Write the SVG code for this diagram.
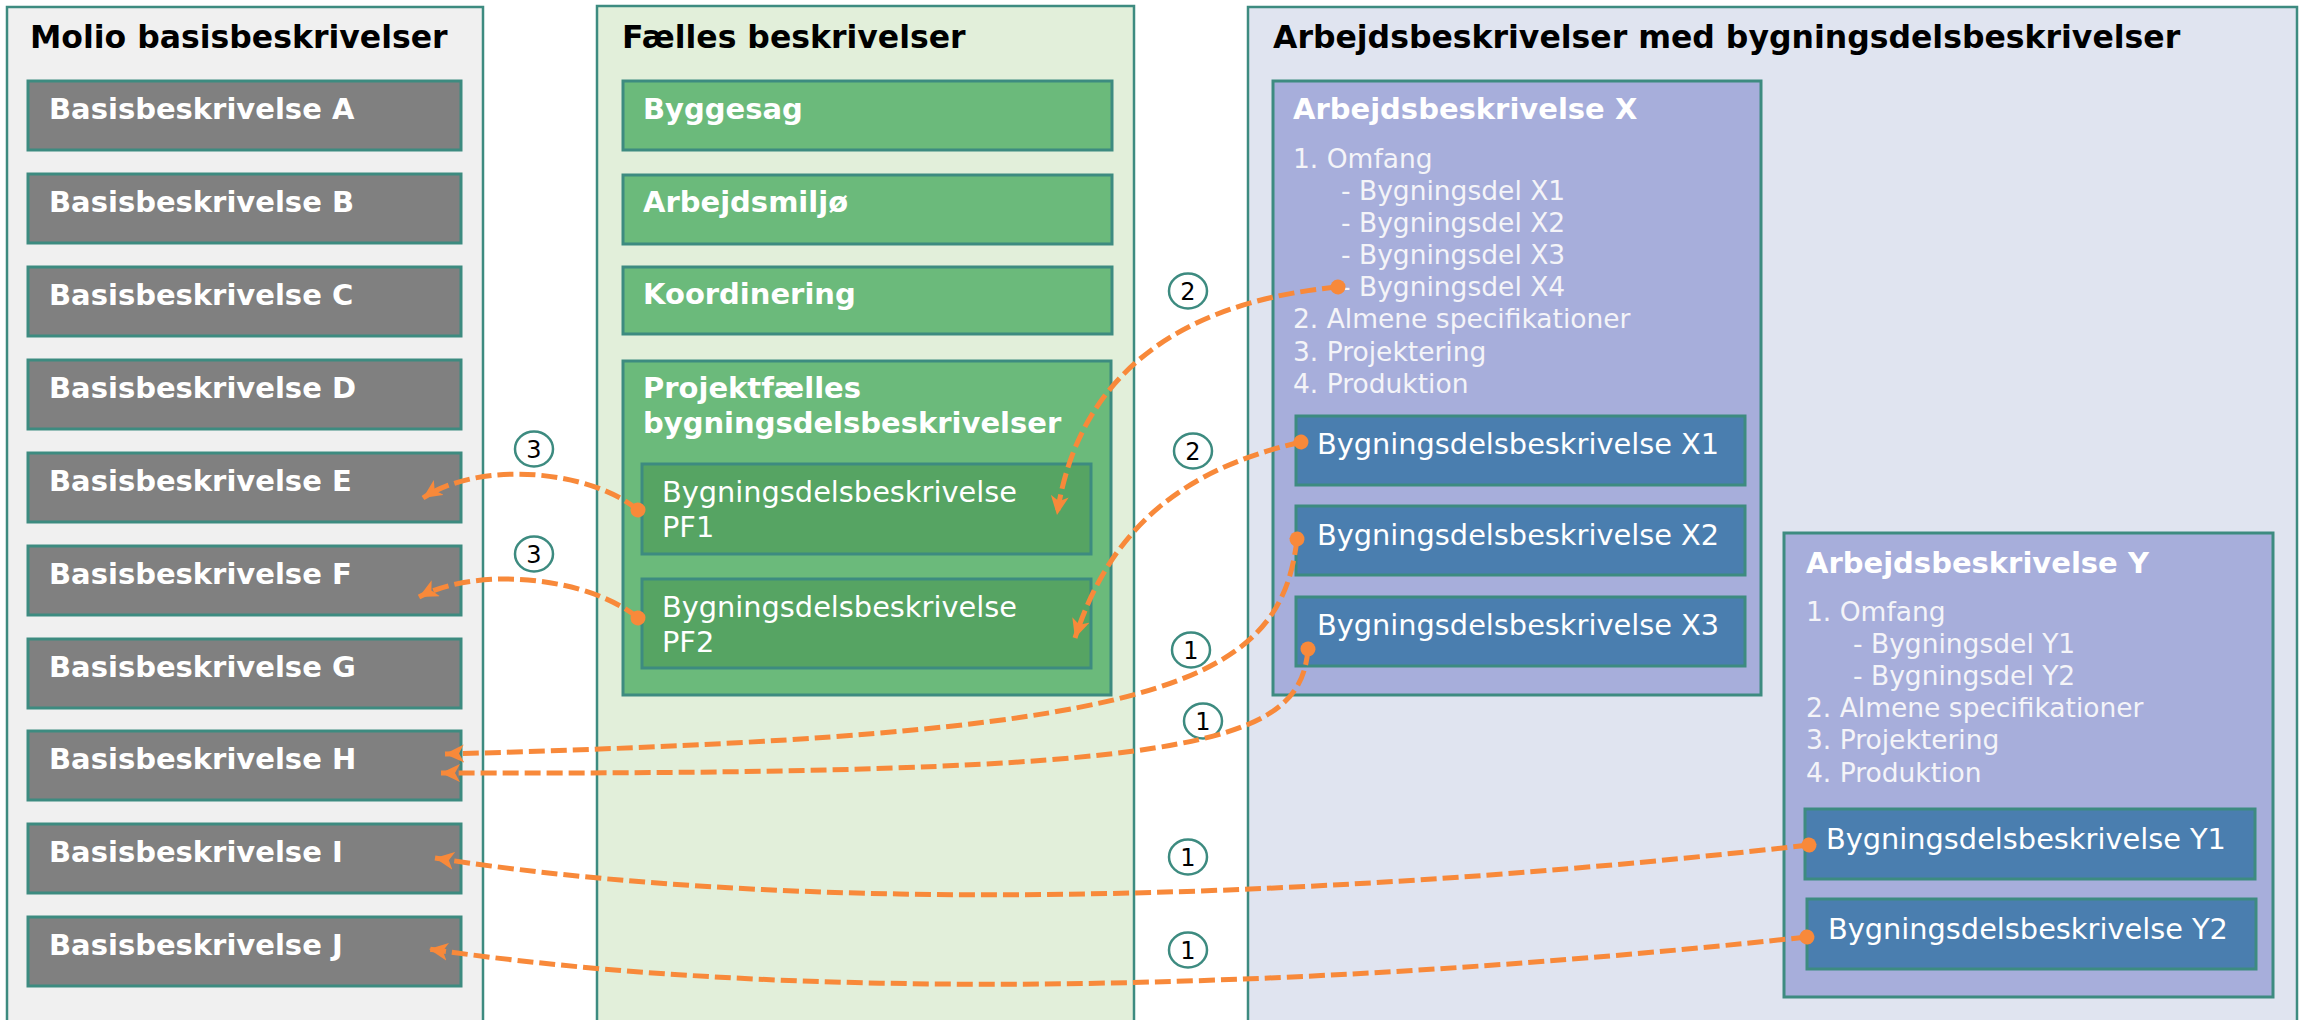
<svg xmlns="http://www.w3.org/2000/svg" width="2305" height="1020" viewBox="0 0 2305 1020">
<defs>
<style>
.panel{stroke:#3D8B80;stroke-width:2.5}
.box{stroke:#3D8B80;stroke-width:3}
.gray{fill:#808080}
.green{fill:#6BBA7B}
.dgreen{fill:#56A463}
.purple{fill:#A7AEDB}
.blue{fill:#4A7EAF}
.ptitle{font-family:"DejaVu Sans",Verdana,sans-serif;font-weight:bold;font-size:31.5px;fill:#000}
.btxt{font-family:"DejaVu Sans",Verdana,sans-serif;font-weight:bold;font-size:29px;fill:#fff}
.rtxt{font-family:"DejaVu Sans",Verdana,sans-serif;font-size:28.8px;fill:#fff}
.ltxt{font-family:"DejaVu Sans",Verdana,sans-serif;font-size:26.5px;fill:#F4F4F8}
.num ellipse{fill:#fff;stroke:#3D8B80;stroke-width:2.5}
.num text{font-family:"DejaVu Sans",Verdana,sans-serif;font-size:24px;fill:#000;text-anchor:middle}
.conn{fill:none;stroke:#F8893A;stroke-width:5;stroke-dasharray:16 6;marker-start:url(#dot);marker-end:url(#arrow)}
</style>
<marker id="arrow" markerUnits="userSpaceOnUse" markerWidth="20" markerHeight="18" viewBox="0 0 20 18" refX="19" refY="9" orient="auto">
<path d="M0,0 L19,9 L0,18 L5,9 Z" fill="#F8893A"/>
</marker>
<marker id="dot" markerUnits="userSpaceOnUse" markerWidth="18" markerHeight="18" viewBox="0 0 18 18" refX="9" refY="9" orient="auto">
<circle cx="9" cy="9" r="7.5" fill="#F8893A"/>
</marker>
</defs>
<rect width="2305" height="1020" fill="#fff"/>

<g id="panel-molio">
<rect class="panel" x="7" y="7" width="476" height="1040" fill="#F0F0F0"/>
<text class="ptitle" x="30" y="48">Molio basisbeskrivelser</text>
</g>
<g id="basis-a"><rect class="box gray" x="28" y="81" width="433" height="69"/><text class="btxt" x="49" y="119">Basisbeskrivelse A</text></g>
<g id="basis-b"><rect class="box gray" x="28" y="174" width="433" height="69"/><text class="btxt" x="49" y="212">Basisbeskrivelse B</text></g>
<g id="basis-c"><rect class="box gray" x="28" y="267" width="433" height="69"/><text class="btxt" x="49" y="305">Basisbeskrivelse C</text></g>
<g id="basis-d"><rect class="box gray" x="28" y="360" width="433" height="69"/><text class="btxt" x="49" y="398">Basisbeskrivelse D</text></g>
<g id="basis-e"><rect class="box gray" x="28" y="453" width="433" height="69"/><text class="btxt" x="49" y="491">Basisbeskrivelse E</text></g>
<g id="basis-f"><rect class="box gray" x="28" y="546" width="433" height="69"/><text class="btxt" x="49" y="584">Basisbeskrivelse F</text></g>
<g id="basis-g"><rect class="box gray" x="28" y="639" width="433" height="69"/><text class="btxt" x="49" y="677">Basisbeskrivelse G</text></g>
<g id="basis-h"><rect class="box gray" x="28" y="731" width="433" height="69"/><text class="btxt" x="49" y="769">Basisbeskrivelse H</text></g>
<g id="basis-i"><rect class="box gray" x="28" y="824" width="433" height="69"/><text class="btxt" x="49" y="862">Basisbeskrivelse I</text></g>
<g id="basis-j"><rect class="box gray" x="28" y="917" width="433" height="69"/><text class="btxt" x="49" y="955">Basisbeskrivelse J</text></g>

<g id="panel-faelles">
<rect class="panel" x="597" y="6" width="537" height="1040" fill="#E2EFDA"/>
<text class="ptitle" x="622" y="48">Fælles beskrivelser</text>
</g>
<g id="byggesag"><rect class="box green" x="623" y="81" width="489" height="69"/><text class="btxt" x="643" y="119">Byggesag</text></g>
<g id="arbejdsmiljo"><rect class="box green" x="623" y="175" width="489" height="69"/><text class="btxt" x="643" y="212">Arbejdsmiljø</text></g>
<g id="koordinering"><rect class="box green" x="623" y="267" width="489" height="67"/><text class="btxt" x="643" y="304">Koordinering</text></g>
<g id="projektfaelles">
<rect class="box green" x="623" y="361" width="488" height="334"/>
<text class="btxt" x="643" y="398">Projektfælles</text>
<text class="btxt" x="643" y="433">bygningsdelsbeskrivelser</text>
</g>
<g id="pf1"><rect class="box dgreen" x="642" y="464" width="449" height="90"/><text class="rtxt" x="662" y="502">Bygningsdelsbeskrivelse</text><text class="rtxt" x="662" y="537">PF1</text></g>
<g id="pf2"><rect class="box dgreen" x="642" y="579" width="449" height="89"/><text class="rtxt" x="662" y="617">Bygningsdelsbeskrivelse</text><text class="rtxt" x="662" y="652">PF2</text></g>

<g id="panel-arbejds">
<rect class="panel" x="1248" y="7" width="1049" height="1040" fill="#E0E4F0"/>
<text class="ptitle" x="1273" y="48">Arbejdsbeskrivelser med bygningsdelsbeskrivelser</text>
</g>
<g id="arbejds-x">
<rect class="box purple" x="1273" y="81" width="488" height="614"/>
<text class="btxt" x="1293" y="119">Arbejdsbeskrivelse X</text>
<text class="ltxt" x="1293" y="168">1. Omfang</text>
<text class="ltxt" x="1341" y="200">- Bygningsdel X1</text>
<text class="ltxt" x="1341" y="232">- Bygningsdel X2</text>
<text class="ltxt" x="1341" y="264">- Bygningsdel X3</text>
<text class="ltxt" x="1341" y="296">- Bygningsdel X4</text>
<text class="ltxt" x="1293" y="328">2. Almene specifikationer</text>
<text class="ltxt" x="1293" y="361">3. Projektering</text>
<text class="ltxt" x="1293" y="393">4. Produktion</text>
</g>
<g id="bdb-x1"><rect class="box blue" x="1296" y="416" width="449" height="69"/><text class="rtxt" x="1317" y="454">Bygningsdelsbeskrivelse X1</text></g>
<g id="bdb-x2"><rect class="box blue" x="1296" y="506" width="449" height="69"/><text class="rtxt" x="1317" y="545">Bygningsdelsbeskrivelse X2</text></g>
<g id="bdb-x3"><rect class="box blue" x="1296" y="597" width="449" height="69"/><text class="rtxt" x="1317" y="635">Bygningsdelsbeskrivelse X3</text></g>

<g id="arbejds-y">
<rect class="box purple" x="1784" y="533" width="489" height="464"/>
<text class="btxt" x="1806" y="573">Arbejdsbeskrivelse Y</text>
<text class="ltxt" x="1806" y="621">1. Omfang</text>
<text class="ltxt" x="1853" y="653">- Bygningsdel Y1</text>
<text class="ltxt" x="1853" y="685">- Bygningsdel Y2</text>
<text class="ltxt" x="1806" y="717">2. Almene specifikationer</text>
<text class="ltxt" x="1806" y="749">3. Projektering</text>
<text class="ltxt" x="1806" y="782">4. Produktion</text>
</g>
<g id="bdb-y1"><rect class="box blue" x="1805" y="809" width="450" height="70"/><text class="rtxt" x="1826" y="849">Bygningsdelsbeskrivelse Y1</text></g>
<g id="bdb-y2"><rect class="box blue" x="1807" y="899" width="449" height="70"/><text class="rtxt" x="1828" y="939">Bygningsdelsbeskrivelse Y2</text></g>

<g id="labels">
<g class="num"><ellipse cx="1188" cy="291" rx="19" ry="17.5"/><text x="1188" y="300">2</text></g>
<g class="num"><ellipse cx="1193" cy="451" rx="19" ry="17.5"/><text x="1193" y="460">2</text></g>
<g class="num"><ellipse cx="1191" cy="650" rx="19" ry="17.5"/><text x="1191" y="659">1</text></g>
<g class="num"><ellipse cx="1203" cy="721" rx="19" ry="17.5"/><text x="1203" y="730">1</text></g>
<g class="num"><ellipse cx="1188" cy="857" rx="19" ry="17.5"/><text x="1188" y="866">1</text></g>
<g class="num"><ellipse cx="1188" cy="950" rx="19" ry="17.5"/><text x="1188" y="959">1</text></g>
<g class="num"><ellipse cx="534" cy="449" rx="19" ry="17.5"/><text x="534" y="458">3</text></g>
<g class="num"><ellipse cx="534" cy="554" rx="19" ry="17.5"/><text x="534" y="563">3</text></g>
</g>

<g id="connectors">
<path class="conn" d="M1338,287 C1200,300 1080,360 1057,515"/>
<path class="conn" d="M1301,442 C1180,470 1110,530 1075,638"/>
<path class="conn" d="M1297,539 C1280,690 1150,735 445,754"/>
<path class="conn" d="M1308,649 C1300,745 1200,775 441,773"/>
<path class="conn" d="M1809,845 C1500,880 900,930 435,858"/>
<path class="conn" d="M1807,937 C1500,970 900,1018 429,949"/>
<path class="conn" d="M638,510 C590,470 480,460 423,498"/>
<path class="conn" d="M638,618 C590,578 480,565 419,597"/>
</g>
</svg>
